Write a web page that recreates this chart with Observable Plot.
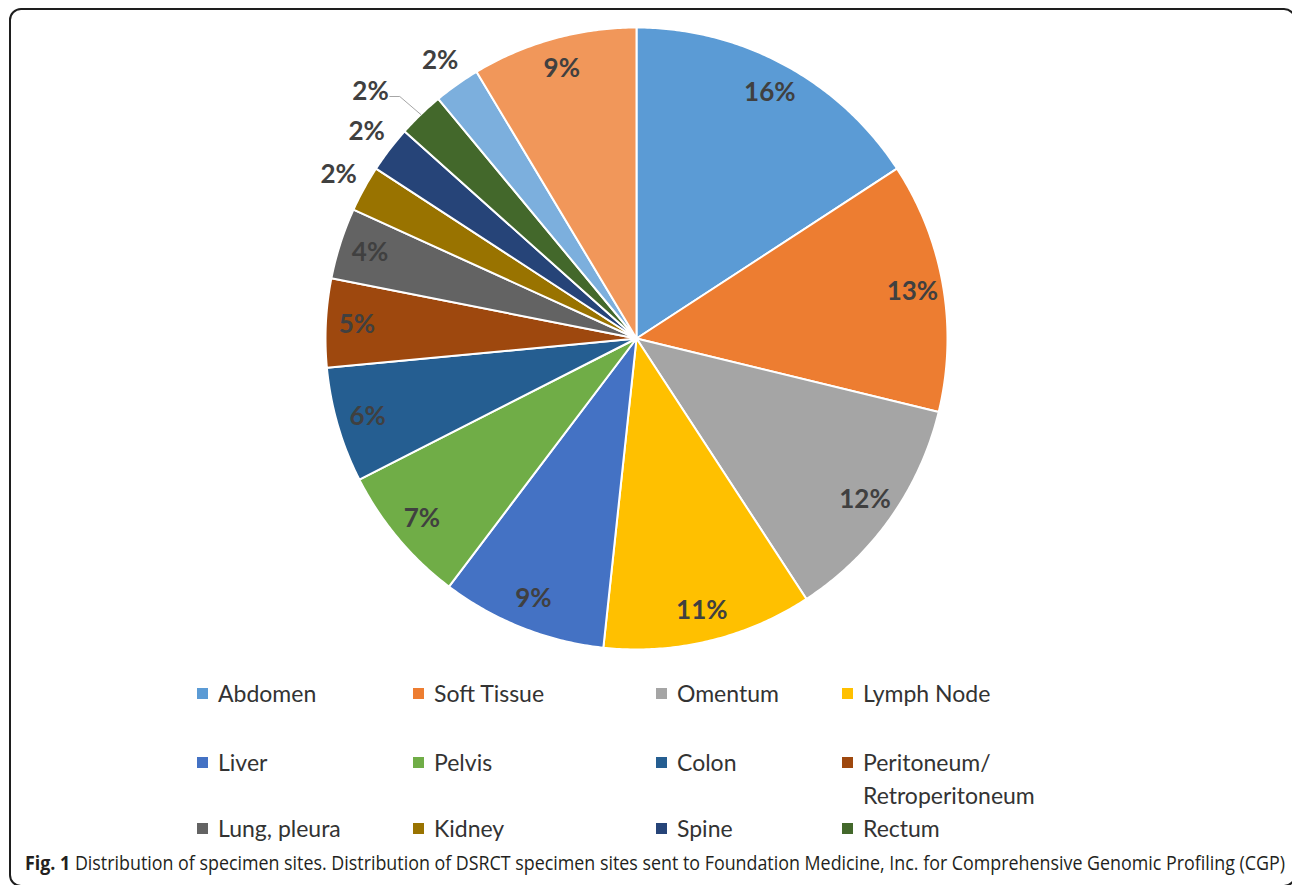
<!DOCTYPE html>
<html>
<head>
<meta charset="utf-8">
<script src="https://cdn.jsdelivr.net/npm/d3@7"></script>
<script src="https://cdn.jsdelivr.net/npm/@observablehq/plot@0.6"></script>
<style>
  html, body { margin: 0; padding: 0; background: #fff; }
  body { width: 1292px; height: 885px; position: relative; overflow: hidden; }
  #frame { position: absolute; left: 9px; top: 8px; width: 1283px; height: 875px;
           border: 2px solid #1e1e1e; border-radius: 12px; box-sizing: content-box; }
  #chart { position: absolute; left: 0; top: 0; }
  .leg { position: absolute; font-family: Lato, "Open Sans", sans-serif; font-size: 23px;
         color: #333; line-height: 34px; white-space: nowrap; }
  .sw { position: absolute; width: 11px; height: 11px; }
  #caption { position: absolute; left: 25px; top: 850px; font-family: "Open Sans", sans-serif;
             font-size: 20px; line-height: 26px; color: #231f20; white-space: nowrap;
             transform-origin: 0 50%; }
</style>
</head>
<body>
<div id="frame"></div>
<div id="chart"></div>
<div id="legend"></div>
<div id="caption"><b>Fig. 1</b> Distribution of specimen sites. Distribution of DSRCT specimen sites sent to Foundation Medicine, Inc. for Comprehensive Genomic Profiling (CGP)</div>
<script>
// ---- data ----
const names = ["Abdomen", "Soft Tissue", "Omentum", "Lymph Node", "Liver", "Pelvis", "Colon",
  "Peritoneum/ Retroperitoneum", "Lung, pleura", "Kidney", "Spine", "Rectum", "Site 13", "Site 14"];
const values = [15.8, 13.0, 12.0, 10.9, 8.6, 7.2, 6.0, 4.6, 3.7, 2.4, 2.4, 2.4, 2.4, 8.6];
const colors = ["#5B9BD5", "#ED7D31", "#A5A5A5", "#FFC000", "#4472C4", "#70AD47", "#255E91",
  "#9E480E", "#636363", "#997300", "#264478", "#43682B", "#7CAFDD", "#F1975A"];
// label placement: "in" inside the slice, "out" just outside, "leader" outside with leader line
const labelPlace = ["in", "in", "in", "in", "in", "in", "in", "in", "in", "out", "out", "leader", "out", "in"];
const legendNames = ["Abdomen", "Soft Tissue", "Omentum", "Lymph Node", "Liver", "Pelvis", "Colon",
  "Peritoneum/\nRetroperitoneum", "Lung, pleura", "Kidney", "Spine", "Rectum"];

// ---- geometry in data units (unit circle) ----
const total = d3.sum(values);
let acc = 0;
const slices = values.map((v, i) => {
  const a0 = acc / total * 2 * Math.PI;
  acc += v;
  const a1 = acc / total * 2 * Math.PI;
  return {name: names[i], value: v, a0, a1, mid: (a0 + a1) / 2, place: labelPlace[i]};
});
const pts = [];
for (const s of slices) {
  pts.push({name: s.name, x: 0, y: 0});
  const n = Math.max(4, Math.ceil((s.a1 - s.a0) / (Math.PI / 360)));
  for (let k = 0; k <= n; k++) {
    const a = s.a0 + (s.a1 - s.a0) * k / n;
    pts.push({name: s.name, x: Math.sin(a), y: Math.cos(a)});
  }
  pts.push({name: s.name, x: 0, y: 0});
}
const labels = [];
const leaders = [];
for (const s of slices) {
  const txt = Math.round(s.value) + "%";
  if (s.place === "in") {
    const r = 0.9;
    labels.push({text: txt, x: r * Math.sin(s.mid), y: r * Math.cos(s.mid)});
  } else if (s.place === "out") {
    const r = 1.093;
    labels.push({text: txt, x: r * Math.sin(s.mid), y: r * Math.cos(s.mid)});
  } else {
    const r = 1.167, a = s.mid - 3.2 * Math.PI / 180;
    const lx = r * Math.sin(a), ly = r * Math.cos(a);
    labels.push({text: txt, x: lx, y: ly});
    leaders.push({x: lx + 0.062, y: ly - 0.016});
    leaders.push({x: lx + 0.094, y: ly - 0.016});
    leaders.push({x: Math.sin(s.mid), y: Math.cos(s.mid)});
  }
}

const chart = Plot.plot({
  width: 1292, height: 670,
  marginLeft: 325, marginRight: 345, marginTop: 27, marginBottom: 21,
  x: {domain: [-1, 1], axis: null},
  y: {domain: [-1, 1], axis: null},
  color: {domain: names, range: colors},
  style: {background: "transparent", overflow: "visible"},
  marks: [
    Plot.line(pts, {x: "x", y: "y", z: "name", fill: "name", stroke: "white", strokeWidth: 2, strokeLinejoin: "round", curve: "linear"}),
    Plot.line(leaders, {x: "x", y: "y", stroke: "#a6a6a6", strokeWidth: 1}),
    Plot.text(labels, {x: "x", y: "y", text: "text", fontSize: 26, fontWeight: "bold", fill: "#404040", fontFamily: "Lato, 'Open Sans', sans-serif"})
  ]
});
document.getElementById("chart").appendChild(chart);

// ---- legend ----
const colX = [197, 413, 656, 842];
const rowY = [693, 762, 828];
const leg = document.getElementById("legend");
legendNames.forEach((nm, i) => {
  const c = i % 4, r = Math.floor(i / 4);
  const sw = document.createElement("div");
  sw.className = "sw";
  sw.style.left = colX[c] + "px";
  sw.style.top = (rowY[r] - 5) + "px";
  sw.style.background = colors[i];
  leg.appendChild(sw);
  nm.split("\n").forEach((line, j) => {
    const t = document.createElement("div");
    t.className = "leg";
    t.textContent = line;
    t.style.left = (colX[c] + 21) + "px";
    t.style.top = (rowY[r] - 17 + j * 33) + "px";
    leg.appendChild(t);
  });
});

// ---- caption fit ----
const cap = document.getElementById("caption");
const w = cap.getBoundingClientRect().width;
cap.style.transform = `scaleX(${1260 / w})`;
</script>
</body>
</html>
